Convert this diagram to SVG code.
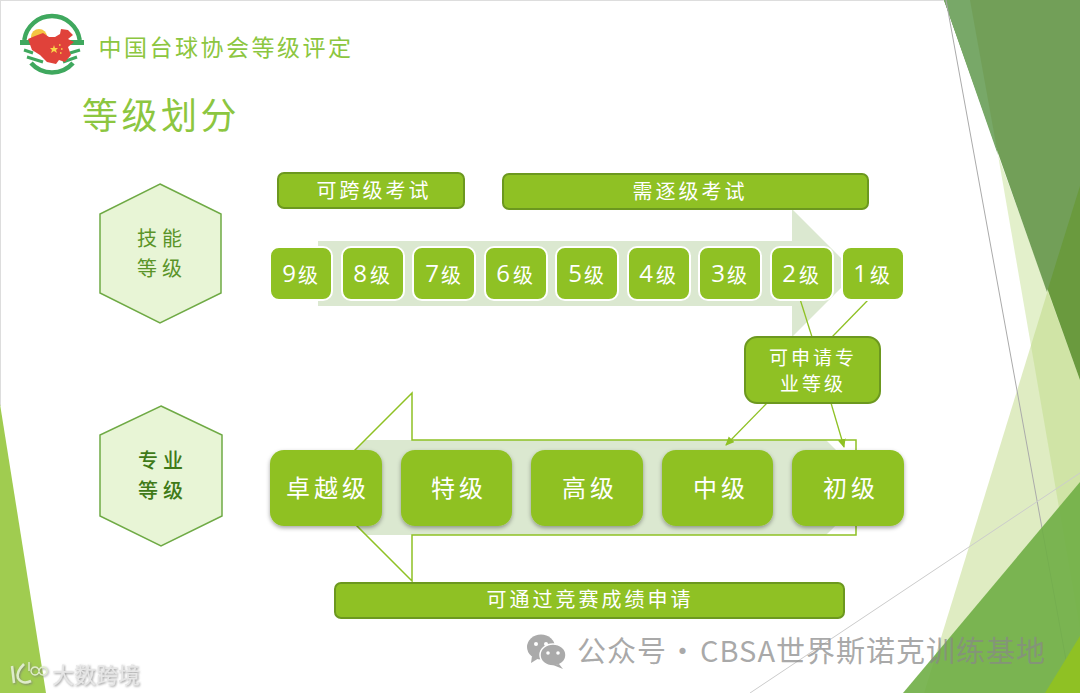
<svg xmlns="http://www.w3.org/2000/svg" width="1080" height="693" viewBox="0 0 1080 693">
<style>
text{font-family:"Noto Sans CJK SC","Noto Sans",sans-serif;text-anchor:middle;dominant-baseline:central}
.bar{fill:#8fc124;stroke:#6c981f;stroke-width:2}
.wt{fill:#fff}
.lv{fill:#8fc124;stroke:#fff;stroke-width:2}
.big{fill:#8fc124;filter:url(#sh)}
.hex{fill:#e8f5d6;stroke:#6faa45;stroke-width:1.5}
.d{font-family:"Open Sans","Noto Sans",sans-serif;font-size:24px;fill:#fff}
.j{font-size:20px;fill:#fff}
.con{stroke:#8fc124;stroke-width:1.3;fill:none}
.lg{fill:none;stroke:#3fa85e}
</style>
<defs>
<filter id="sh" x="-10%" y="-10%" width="120%" height="125%"><feDropShadow dx="0" dy="2" stdDeviation="2" flood-color="#000" flood-opacity="0.35"/></filter>
<filter id="ws" x="-10%" y="-20%" width="120%" height="140%"><feDropShadow dx="1" dy="1" stdDeviation="1" flood-color="#777" flood-opacity="0.8"/></filter>
<marker id="ah" markerWidth="10" markerHeight="10" refX="8" refY="4" orient="auto" markerUnits="userSpaceOnUse"><path d="M0 0L9 4L0 8Z" fill="#8fc124"/></marker>
</defs>
<g id="background">
<rect x="0" y="0" width="1080" height="693" fill="#fff"/>
<path d="M0 .5H945M.5 0V406" stroke="#ddd" stroke-width="1" fill="none"/>
<polygon points="0,404 46,693 0,693" fill="#a0cc50"/>
<polygon points="1080,186 1080,693 924,693" fill="#dfecc2"/>
<polygon points="998,155 1080,380 1080,629" fill="#b8d97e" fill-opacity="0.4"/>
<polygon points="944,0 1080,0 1080,380" fill="#6a9a3e"/>
<polygon points="944,0 1080,0 1080,186 1047,292" fill="#729f58"/>
<polygon points="944,0 970,0 998,155" fill="#78a868"/>
<line x1="946" y1="0" x2="1072" y2="693" stroke="#aaa" stroke-width="1"/>
<line x1="750" y1="693" x2="1080" y2="473" stroke="#ccc" stroke-width="1"/>
<polygon points="903,693 1080,482 1080,693" fill="#6fae45" fill-opacity="0.9"/>
<polygon points="1045,693 1080,636 1080,693" fill="#8fc124"/>
</g>
<g id="logo">
<path class="lg" stroke-width="4.5" d="M24.3 40A28 28 0 0 1 79.7 40"/>
<path class="lg" stroke-width="4.5" d="M31 63A28 28 0 0 0 73 63"/>
<path class="lg" stroke-width="3" d="M24 50L33 53M27 57L43 62M80 50L70 53M77 57L63 62"/>
<rect x="20" y="40" width="64" height="5" fill="#3fa85e"/>
<circle cx="39" cy="37" r="8" fill="#f4c542"/>
<path d="M28 39L35 36L43 33L49 37L55 37L60 34L61 29L68 30L73 35L68 39L74 42L68 47L71 55L65 62L59 60L56 64L47 62L40 55L32 50Z" fill="#e0423a"/>
<polygon points="54,45 55,48 58,48 56,50 57,53 54,51 51,53 52,50 50,48 53,48" fill="#f9d648"/>
<path d="M59 45h1.5M61 49h1.5M60 53h1.5" stroke="#f9d648" stroke-width="1.5"/>
</g>
<g id="titles">
<text x="226" y="46" font-size="23" fill="#8cc640" letter-spacing="2.5">中国台球协会等级评定</text>
<text x="161" y="113" font-size="36" fill="#8cc640" letter-spacing="3.5">等级划分</text>
</g>
<g id="big-arrows">
<polygon points="318,241 792,241 792,209 856,273 792,337 792,306 318,306" fill="#dbe8d0"/>
<polygon points="318,487 365,440 826,440 874,488 826,535 365,535" fill="#dbe8d0"/>
<polyline points="318,487 412,393 412,440 856,440 856,535 412,535 412,581 318,487" fill="none" stroke="#8fc124" stroke-width="1.5"/>
</g>
<g id="connectors">
<line class="con" x1="800" y1="299" x2="812" y2="337"/>
<line class="con" x1="869" y1="299" x2="832" y2="337"/>
<line class="con" x1="767" y1="403" x2="726" y2="445" marker-end="url(#ah)"/>
<line class="con" x1="831" y1="403" x2="844" y2="447" marker-end="url(#ah)"/>
</g>
<g id="hex-skill"><polygon class="hex" points="160,184 221,214 221,293 160,323 100,293 100,214"/>
<text x="162" y="237" font-size="20" fill="#5a9428" letter-spacing="5">技能</text><text x="162" y="267" font-size="20" fill="#5a9428" letter-spacing="5">等级</text></g>
<g id="hex-pro"><polygon class="hex" points="161,406 222,435 222,516 161,546 100,516 100,435"/>
<text x="163" y="459" font-size="20" fill="#3f7a18" font-weight="500" letter-spacing="5">专业</text><text x="163" y="489" font-size="20" fill="#3f7a18" font-weight="500" letter-spacing="5">等级</text></g>
<g id="bar-cross"><rect class="bar" x="278" y="173" width="186" height="35" rx="6"/><text class="wt" x="374" y="189" font-size="20" letter-spacing="3">可跨级考试</text></g>
<g id="bar-step"><rect class="bar" x="503" y="174" width="365" height="35" rx="6"/><text class="wt" x="690" y="190" font-size="20" letter-spacing="3">需逐级考试</text></g>
<g id="bar-contest"><rect class="bar" x="335" y="583" width="509" height="35" rx="6"/><text class="wt" x="590" y="598" font-size="20" letter-spacing="3">可通过竞赛成绩申请</text></g>
<g id="lv9"><rect class="lv" x="270" y="247" width="62" height="53" rx="9"/><text class="d" x="289" y="272">9</text><text class="j" x="308" y="274">级</text></g>
<g id="lv8"><rect class="lv" x="342" y="247" width="62" height="53" rx="9"/><text class="d" x="360" y="272">8</text><text class="j" x="380" y="274">级</text></g>
<g id="lv7"><rect class="lv" x="413" y="247" width="62" height="53" rx="9"/><text class="d" x="432" y="272">7</text><text class="j" x="451" y="274">级</text></g>
<g id="lv6"><rect class="lv" x="485" y="247" width="62" height="53" rx="9"/><text class="d" x="503" y="272">6</text><text class="j" x="523" y="274">级</text></g>
<g id="lv5"><rect class="lv" x="556" y="247" width="62" height="53" rx="9"/><text class="d" x="575" y="272">5</text><text class="j" x="594" y="274">级</text></g>
<g id="lv4"><rect class="lv" x="628" y="247" width="62" height="53" rx="9"/><text class="d" x="646" y="272">4</text><text class="j" x="666" y="274">级</text></g>
<g id="lv3"><rect class="lv" x="699" y="247" width="62" height="53" rx="9"/><text class="d" x="718" y="272">3</text><text class="j" x="737" y="274">级</text></g>
<g id="lv2"><rect class="lv" x="771" y="247" width="62" height="53" rx="9"/><text class="d" x="789" y="272">2</text><text class="j" x="809" y="274">级</text></g>
<g id="lv1"><rect class="lv" x="842" y="247" width="62" height="53" rx="9"/><text class="d" x="860" y="272">1</text><text class="j" x="880" y="274">级</text></g>
<g id="apply"><rect class="bar" x="745" y="337" width="135" height="66" rx="12"/><text class="wt" x="813" y="356" font-size="19" letter-spacing="3">可申请专</text><text class="wt" x="813" y="382" font-size="19" letter-spacing="3">业等级</text></g>
<g id="p1"><rect class="big" x="270" y="450" width="112" height="76" rx="14"/><text class="wt" x="328" y="486" font-size="24" letter-spacing="4">卓越级</text></g>
<g id="p2"><rect class="big" x="401" y="450" width="111" height="76" rx="14"/><text class="wt" x="459" y="486" font-size="24" letter-spacing="4">特级</text></g>
<g id="p3"><rect class="big" x="531" y="450" width="112" height="76" rx="14"/><text class="wt" x="590" y="486" font-size="24" letter-spacing="4">高级</text></g>
<g id="p4"><rect class="big" x="662" y="450" width="111" height="76" rx="14"/><text class="wt" x="721" y="486" font-size="24" letter-spacing="4">中级</text></g>
<g id="p5"><rect class="big" x="792" y="450" width="112" height="76" rx="14"/><text class="wt" x="851" y="486" font-size="24" letter-spacing="4">初级</text></g>
<g id="watermarks">
<ellipse cx="541" cy="647" rx="14" ry="12.5" fill="#aaa"/><path d="M532 656L531 663L539 658Z" fill="#aaa"/>
<ellipse cx="553" cy="655" rx="13" ry="11" fill="#aaa" stroke="#fff" stroke-width="1.5"/><path d="M559 664L563 669L553 665Z" fill="#aaa"/>
<circle cx="536" cy="644" r="2" fill="#fff"/><circle cx="546" cy="644" r="2" fill="#fff"/><circle cx="548" cy="653" r="1.8" fill="#fff"/><circle cx="558" cy="653" r="1.8" fill="#fff"/>
<text x="577" y="649" font-size="29" fill="#888" fill-opacity="0.72" letter-spacing="1" style="text-anchor:start">公众号<tspan x="668">·</tspan><tspan x="700">CBSA世界斯诺克训练基地</tspan></text>
<text x="96" y="673" font-size="22" fill="#e6e6e6" filter="url(#ws)">大数跨境</text>
<g fill="none" stroke="#dfeccb" stroke-width="2.5" filter="url(#ws)"><path d="M12 666L14 683M24 664Q16 672 18 678Q22 685 31 681"/><path d="M29 663V672M35 668a4 4 0 1 0 .01 0M43 668a4 4 0 1 0 .01 0" stroke-width="1.4" transform="translate(0 -1)"/></g>
</g>
</svg>
